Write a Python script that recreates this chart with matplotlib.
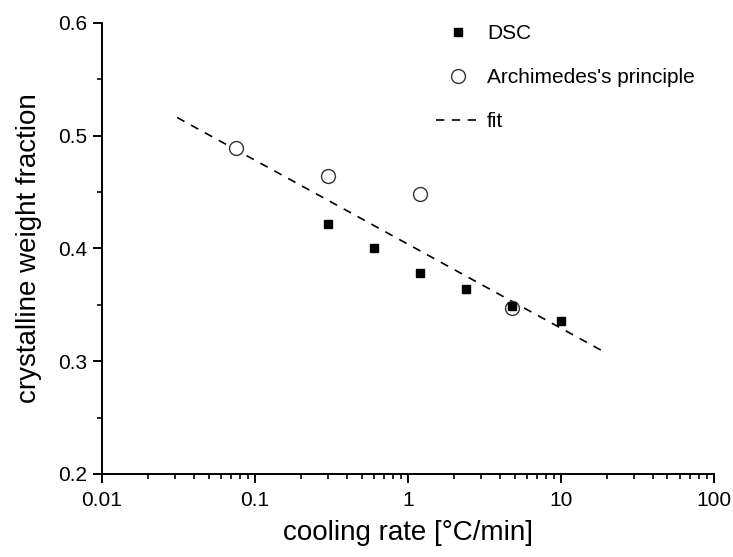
import numpy as np
import matplotlib
matplotlib.use("Agg")
import matplotlib.pyplot as plt
from matplotlib.ticker import MultipleLocator, LogLocator, FixedLocator


''' Data '''
dsc_x = [0.3, 0.6, 1.2, 2.4, 4.8, 10]
dsc_y = [0.422, 0.400, 0.378, 0.364, 0.349, 0.336]

arch_x = [0.075, 0.3, 1.2, 4.8]
arch_y = [0.489, 0.464, 0.448, 0.347]

fit_x = [0.031, 20]
fit_y = [0.516, 0.307]

x_ticks = [0.01, 0.1, 1, 10, 100]
x_labels = ["0.01", "0.1", "1", "10", "100"]
y_ticks = [0.2, 0.3, 0.4, 0.5, 0.6]


''' Plot '''
plt.rcParams["font.family"] = ["Liberation Sans", "DejaVu Sans"]

fig = plt.figure(figsize=(7.33, 5.57), dpi=100)
ax = fig.add_axes([102 / 733, 1 - 474 / 557, (713.5 - 102) / 733, (474 - 22.7) / 557])

arch, = ax.plot(arch_x, arch_y, "o", ms=10, mfc="white", mec="#333333", mew=1.0,
                label="Archimedes's principle", zorder=3)
dsc, = ax.plot(dsc_x, dsc_y, "s", ms=6, color="black", label="DSC", zorder=4)
fit, = ax.plot(fit_x, fit_y, color="black", lw=1.2, linestyle=(0, (5, 4.5)),
               label="fit", zorder=2)

ax.set_xscale("log")
ax.set_xlim(0.01, 100)
ax.set_ylim(0.2, 0.6)

ax.xaxis.set_major_locator(FixedLocator(x_ticks))
ax.set_xticklabels(x_labels)
ax.xaxis.set_minor_locator(LogLocator(base=10, subs=np.arange(2, 10)))
ax.xaxis.set_minor_formatter(plt.NullFormatter())
ax.yaxis.set_major_locator(FixedLocator(y_ticks))
ax.yaxis.set_minor_locator(MultipleLocator(0.05))
ax.yaxis.set_major_formatter(plt.FormatStrFormatter("%.1f"))

for s in ["top", "right"]:
    ax.spines[s].set_visible(False)
for s in ["left", "bottom"]:
    ax.spines[s].set_linewidth(1.4)
    ax.spines[s].set_zorder(5)

ax.tick_params(which="major", direction="out", length=6.5, width=1.4,
               labelsize=15, colors="black")
ax.tick_params(axis="x", which="major", pad=6)
ax.tick_params(axis="y", which="major", pad=4)
ax.tick_params(which="minor", direction="out", length=3.5, width=1.2)

ax.set_xlabel("cooling rate [°C/min]", fontsize=20, labelpad=7)
ax.set_ylabel("crystalline weight fraction", fontsize=20, labelpad=12)

ax.legend(handles=[dsc, arch, fit], loc="upper left",
          bbox_to_anchor=(436 / 733, 1 - 24 / 557), bbox_transform=fig.transFigure,
          frameon=False, fontsize=15, handlelength=2.1, handletextpad=0.35,
          labelspacing=1.2, borderpad=0, borderaxespad=0)

fig.savefig("out.png", dpi=100)
